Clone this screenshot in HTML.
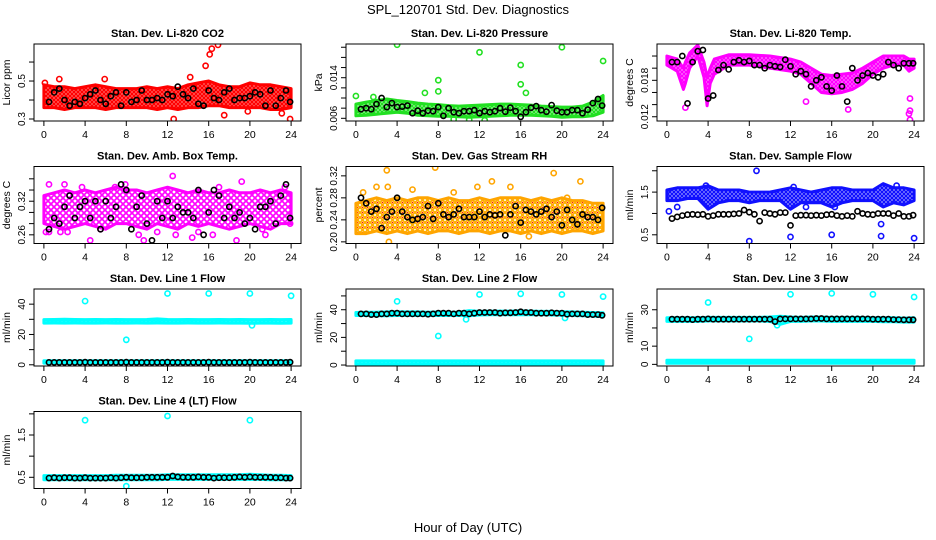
<!DOCTYPE html>
<html><head><meta charset="utf-8"><style>
html,body{margin:0;padding:0;background:#fff;}
svg{display:block;font-family:"Liberation Sans",Arial,sans-serif;}
</style></head><body>
<svg id="chart" width="936" height="540" viewBox="0 0 936 540" xmlns="http://www.w3.org/2000/svg">
<defs id="defs"></defs>
<text x="468" y="14" font-size="13" text-anchor="middle">SPL_120701  Std. Dev. Diagnostics</text>
<text x="468" y="532" font-size="13" text-anchor="middle">Hour of Day (UTC)</text>
</svg>
<script>
const hourX=[0,1,2,3,4,5,6,7,8,9,10,11,12,13,14,15,16,17,18,19,20,21,22,23,24];
const blackX=[0.5,1,1.5,2,2.5,3,3.5,4,4.5,5,5.5,6,6.5,7,7.5,8,8.5,9,9.5,10,10.5,11,11.5,12,12.5,13,13.5,14,14.5,15,15.5,16,16.5,17,17.5,18,18.5,19,19.5,20,20.5,21,21.5,22,22.5,23,23.5,23.9];
const xTicks=[0,4,8,12,16,20,24];

// Panel 1: CO2
const co2Lo=[0.36,0.36,0.35,0.36,0.36,0.36,0.35,0.36,0.36,0.36,0.36,0.35,0.36,0.35,0.36,0.36,0.37,0.37,0.36,0.36,0.36,0.36,0.35,0.35,0.36];
const co2Hi=[0.48,0.47,0.47,0.46,0.47,0.48,0.47,0.46,0.46,0.46,0.47,0.46,0.47,0.46,0.48,0.49,0.50,0.48,0.47,0.47,0.49,0.48,0.48,0.47,0.46];
const co2OutX=[0.1,1.5,5.9,12.6,15.7,16.1,16.3,16.9,14.2,17.5,23.9,19.8,23.1];
const co2OutY=[0.49,0.51,0.51,0.30,0.58,0.64,0.67,0.69,0.52,0.32,0.30,0.34,0.33];
const co2Black=[0.39,0.44,0.46,0.40,0.37,0.39,0.38,0.41,0.43,0.45,0.40,0.38,0.42,0.44,0.37,0.44,0.39,0.40,0.45,0.40,0.40,0.41,0.40,0.43,0.42,0.47,0.43,0.41,0.46,0.38,0.37,0.45,0.41,0.40,0.44,0.46,0.40,0.41,0.41,0.42,0.44,0.43,0.37,0.45,0.37,0.41,0.45,0.39];
const co2Ticks=[0.3,0.4,0.5,0.6];
const co2Labels=["0.3","","0.5",""];

// Panel 2: Pressure
const presLo=[0.0065,0.0066,0.0068,0.007,0.0072,0.007,0.0066,0.0065,0.0064,0.0064,0.0063,0.0062,0.0063,0.0064,0.0065,0.0066,0.0066,0.0066,0.0065,0.0064,0.0062,0.0063,0.0063,0.0065,0.0072];
const presHi=[0.0088,0.0092,0.0095,0.0098,0.0095,0.0093,0.009,0.0088,0.0087,0.0085,0.0084,0.0085,0.0086,0.0087,0.0088,0.0088,0.0087,0.0086,0.0084,0.0083,0.0082,0.0082,0.0084,0.0092,0.0105];
const presOutX=[0,4,8,8,12,16,16,20,24,1.7,6.7,9.5,12.5,11,16.5];
const presOutY=[0.0104,0.0205,0.0135,0.0113,0.0190,0.0165,0.0127,0.0200,0.0173,0.0102,0.0110,0.0058,0.0056,0.0057,0.0110];
const presBlack=[0.0078,0.0080,0.0078,0.0088,0.0100,0.0082,0.0090,0.0082,0.0083,0.0085,0.0070,0.0075,0.0070,0.0075,0.0074,0.0082,0.0065,0.0080,0.0072,0.0070,0.0074,0.0074,0.0076,0.0070,0.0074,0.0072,0.0074,0.0080,0.0073,0.0081,0.0074,0.0063,0.0072,0.0081,0.0084,0.0076,0.0073,0.0086,0.0075,0.0072,0.0072,0.0076,0.0076,0.0070,0.0077,0.0090,0.0098,0.0085];
const presTicks=[0.006,0.008,0.010,0.012,0.014,0.016,0.018,0.020];
const presLabels=["0.006","","","","0.014","","",""];

// Panel 3: Li-820 Temp
const tempX=[0,1,1.6,1.8,2.2,3,3.6,3.9,4.2,4.6,6,8,10,12,13,14,15,16,17,18,19,20,21,22,23,23.5,24];
const tempLo=[0.0205,0.0195,0.0165,0.0175,0.020,0.022,0.0185,0.0138,0.0175,0.019,0.0205,0.0205,0.020,0.0195,0.019,0.0175,0.016,0.0158,0.016,0.0165,0.0175,0.019,0.020,0.0205,0.0205,0.0195,0.020];
const tempHi=[0.022,0.0215,0.020,0.021,0.0225,0.0238,0.021,0.0185,0.020,0.0215,0.0222,0.0222,0.022,0.0215,0.021,0.020,0.019,0.0188,0.019,0.0192,0.020,0.021,0.022,0.022,0.022,0.0215,0.0215];
const tempOutX=[1.8,23.6,23.6,23.6,23.5,17.6,13.5];
const tempOutY=[0.0135,0.0150,0.0130,0.0115,0.0125,0.0132,0.0145];
const tempBlack=[0.0210,0.0210,0.0220,0.0142,0.0210,0.0228,0.0230,0.0150,0.0155,0.0197,0.0205,0.0198,0.0210,0.0213,0.0210,0.0212,0.0205,0.0205,0.0200,0.0205,0.0203,0.0202,0.0214,0.0203,0.0190,0.0195,0.0190,0.0170,0.0180,0.0185,0.0170,0.0163,0.0188,0.0170,0.0145,0.0200,0.0180,0.0188,0.0192,0.0188,0.0185,0.0190,0.0210,0.0205,0.0200,0.0208,0.0208,0.0208];
const tempTicks=[0.012,0.014,0.016,0.018,0.020,0.022];
const tempLabels=["0.012","","","0.018","",""];

// Panel 4: Amb box temp
const ambLo=[0.28,0.275,0.27,0.275,0.28,0.275,0.27,0.28,0.28,0.275,0.27,0.28,0.275,0.27,0.28,0.275,0.28,0.275,0.27,0.275,0.28,0.275,0.27,0.28,0.28];
const ambHi=[0.33,0.335,0.34,0.335,0.34,0.335,0.34,0.345,0.34,0.34,0.335,0.34,0.345,0.34,0.335,0.34,0.335,0.335,0.34,0.335,0.335,0.34,0.335,0.34,0.335];
const ambOutX=[0.5,0.2,2.0,3.7,4.5,6.9,7.9,9.7,12.5,14.4,16.4,18.7,19.2,21.5,23.4,23.9,0.5,1.6,2.3,9.2,12.8,15.0,21.2,5.5,11,17];
const ambOutY=[0.35,0.265,0.35,0.345,0.25,0.345,0.35,0.25,0.365,0.255,0.26,0.25,0.355,0.26,0.345,0.28,0.265,0.265,0.265,0.26,0.26,0.265,0.27,0.27,0.265,0.345];
const ambBlack=[0.27,0.29,0.28,0.31,0.33,0.29,0.31,0.32,0.29,0.32,0.27,0.32,0.29,0.31,0.35,0.34,0.27,0.31,0.33,0.28,0.25,0.32,0.29,0.32,0.29,0.31,0.30,0.30,0.29,0.34,0.26,0.30,0.34,0.33,0.29,0.31,0.29,0.30,0.28,0.29,0.27,0.31,0.31,0.32,0.28,0.33,0.35,0.29];
const ambTicks=[0.26,0.28,0.30,0.32,0.34,0.36];
const ambLabels=["0.26","","","0.32","",""];

// Panel 5: Gas stream RH
const rhLo=[0.215,0.215,0.22,0.215,0.22,0.215,0.22,0.215,0.22,0.22,0.215,0.22,0.22,0.215,0.22,0.22,0.215,0.22,0.215,0.22,0.215,0.22,0.22,0.215,0.22];
const rhHi=[0.27,0.275,0.28,0.275,0.28,0.275,0.28,0.28,0.275,0.28,0.275,0.275,0.28,0.275,0.28,0.28,0.28,0.275,0.28,0.275,0.28,0.275,0.275,0.27,0.27];
const rhOutX=[3.0,7.7,13.2,19.2,21.8,3.2,0.7,2.0,9.5,15.0,20.5,3.1,16.8,5.5,11.8];
const rhOutY=[0.33,0.335,0.31,0.325,0.31,0.20,0.29,0.30,0.29,0.30,0.28,0.30,0.21,0.295,0.30];
const rhBlack=[0.28,0.27,0.255,0.26,0.225,0.245,0.255,0.28,0.255,0.245,0.24,0.242,0.245,0.265,0.242,0.27,0.25,0.245,0.25,0.26,0.245,0.245,0.245,0.255,0.245,0.25,0.248,0.25,0.212,0.25,0.265,0.235,0.258,0.255,0.25,0.255,0.26,0.245,0.255,0.23,0.258,0.24,0.232,0.25,0.245,0.245,0.24,0.262];
const rhTicks=[0.20,0.24,0.28,0.32];
const rhLabels=["0.20","0.24","0.28","0.32"];

// Panel 6: Sample flow
const sfLo=[1.3,1.3,1.35,1.35,1.1,1.25,1.3,1.3,1.25,1.3,1.3,1.3,1.1,1.25,1.25,1.25,1.15,1.25,1.3,1.3,1.3,1.15,1.25,1.2,1.3];
const sfHi=[1.55,1.6,1.6,1.6,1.65,1.55,1.55,1.55,1.5,1.5,1.5,1.55,1.6,1.55,1.5,1.55,1.6,1.6,1.55,1.55,1.55,1.7,1.6,1.6,1.55];
const sfOutX=[8.7,8,12,16,20.8,20.8,24,0.2,1,13.5,16.3,22.3,12.3,3.8];
const sfOutY=[2.0,0.35,0.45,0.5,0.47,0.75,0.42,1.05,1.15,1.15,1.15,1.65,1.62,1.65];
const sfBlack=[0.88,0.92,0.95,0.97,0.98,0.97,0.98,0.93,0.95,0.98,0.98,0.98,0.99,1.0,1.08,1.03,0.98,0.82,1.02,1.0,0.98,1.02,1.02,0.72,0.95,0.96,0.96,0.95,0.96,0.95,0.97,0.98,0.95,0.93,0.95,0.93,1.05,1.0,0.98,0.97,1.0,1.0,1.0,0.95,1.0,0.93,0.93,0.96];
const sfTicks=[0.5,1.0,1.5,2.0];
const sfLabels=["0.5","","1.5",""];

// Panel 7: Line 1 flow
const l1Lo=[27.5,27.6,27.5,27.6,27.5,27.5,27.6,27.5,27.5,27.6,27.5,27.6,27.5,27.5,27.6,27.5,27.5,27.6,27.5,27.5,27.4,27.5,27.5,27.4,27.5];
const l1Hi=[29.8,29.9,30.0,29.9,29.8,29.9,29.8,29.9,29.8,29.8,29.9,30.3,29.9,29.8,29.9,29.8,29.8,29.9,29.8,29.9,29.8,29.8,29.9,29.8,29.9];
const l1LowLo=[1.1,1.1,1.1,1.1,1.1,1.1,1.1,1.1,1.1,1.1,1.1,1.1,1.1,1.1,1.1,1.1,1.1,1.1,1.1,1.1,1.1,1.1,1.1,1.1,1.1];
const l1LowHi=[2.6,2.6,2.6,2.6,2.6,2.6,2.6,2.6,2.6,2.6,2.6,2.6,2.6,2.6,2.6,2.6,2.6,2.6,2.6,2.6,2.6,2.6,2.6,2.6,2.6];
const l1OutX=[4,8,12,16,20,24,20.2];
const l1OutY=[42,16.5,47,47,47,45.5,26];
const l1Black=[1.6,1.6,1.6,1.6,1.6,1.6,1.6,1.7,1.6,1.6,1.6,1.6,1.6,1.6,1.6,1.7,1.6,1.6,1.6,1.6,1.6,1.6,1.6,1.7,1.6,1.6,1.6,1.6,1.6,1.6,1.6,1.7,1.6,1.6,1.6,1.6,1.6,1.6,1.6,1.7,1.6,1.6,1.6,1.6,1.6,1.6,1.6,1.7];
const l1Ticks=[0,10,20,30,40];
const l1Labels=["0","","20","","40"];

// Panel 8: Line 2 flow
const l2Lo=[35.8,35.8,35.6,35.6,35.8,35.8,35.8,35.8,35.8,35.8,35.8,35.6,36.2,36.4,36.4,36.4,36.4,36.4,36.4,36.2,36.0,35.8,35.6,35.4,35.0];
const l2Hi=[38.0,38.2,38.2,38.4,38.6,38.4,38.4,38.2,38.4,38.2,38.2,39.4,38.8,39.0,39.0,39.0,39.2,39.0,38.8,38.8,38.6,38.4,38.2,38.0,37.8];
const l2LowLo=[0.6,0.6,0.6,0.6,0.6,0.6,0.6,0.6,0.6,0.6,0.6,0.6,0.6,0.6,0.6,0.6,0.6,0.6,0.6,0.6,0.6,0.6,0.6,0.6,0.6];
const l2LowHi=[3.0,3.0,3.0,3.0,3.0,3.0,3.0,3.0,3.0,3.0,3.0,3.0,3.0,3.0,3.0,3.0,3.0,3.0,3.0,3.0,3.0,3.0,3.0,3.0,3.0];
const l2OutX=[4,8,12,16,20,24,10.7,20.3];
const l2OutY=[46,21,51,51.5,51,49.5,33,34];
const l2Black=[37,37,36.5,36.5,37,37,37.5,37.5,37,37,37,37,37,36.8,37,37.5,37.5,37.5,37,37.5,37.5,37,37.5,38,38,38,38,37.5,37.8,37.8,38,38.5,38,38,37.5,37.5,37.5,37.8,37.5,37.5,36.8,37,37,37,36.5,36.5,36.5,36];
const l2Ticks=[0,10,20,30,40,50];
const l2Labels=["0","","20","","40",""];

// Panel 9: Line 3 flow
const l3Lo=[23.6,23.6,23.6,23.6,23.8,23.8,23.8,23.8,23.8,23.8,23.6,22.0,23.6,23.6,23.8,23.8,23.6,23.6,23.6,23.6,23.6,23.4,23.4,23.2,23.2];
const l3Hi=[25.6,25.6,25.6,25.6,25.8,25.8,25.8,25.8,25.8,25.8,26.0,26.4,26.0,25.8,26.0,26.0,25.8,25.8,25.8,25.8,25.6,25.6,25.6,25.4,25.6];
const l3LowLo=[0.6,0.6,0.6,0.6,0.6,0.6,0.6,0.6,0.6,0.6,0.6,0.6,0.6,0.6,0.6,0.6,0.6,0.6,0.6,0.6,0.6,0.6,0.6,0.6,0.6];
const l3LowHi=[2.3,2.3,2.3,2.3,2.3,2.3,2.3,2.3,2.3,2.3,2.3,2.3,2.3,2.3,2.3,2.3,2.3,2.3,2.3,2.3,2.3,2.3,2.3,2.3,2.3];
const l3OutX=[4,8,12,16,20,24,10.7];
const l3OutY=[34,14,38.5,39,38.5,37,21.5];
const l3Black=[24.8,24.8,24.8,24.8,24.6,24.8,24.8,25,24.8,24.8,24.8,24.8,24.8,24.8,24.8,24.8,24.8,24.8,24.8,24.8,23.5,25,25,25,25,25,25,25,25.2,25.2,25,25,25,25,25,25,25,25,25,24.8,24.8,24.8,24.8,24.6,24.6,24.5,24.5,24.5];
const l3Ticks=[0,10,20,30];
const l3Labels=["0","10","","30"];

// Panel 10: Line 4 (LT) flow
const l4Lo=[0.44,0.44,0.44,0.44,0.44,0.44,0.44,0.44,0.44,0.44,0.44,0.44,0.45,0.45,0.45,0.45,0.45,0.45,0.45,0.45,0.45,0.45,0.44,0.44,0.44];
const l4Hi=[0.54,0.54,0.54,0.54,0.54,0.54,0.54,0.55,0.55,0.55,0.55,0.55,0.56,0.56,0.56,0.56,0.56,0.56,0.56,0.56,0.57,0.56,0.55,0.55,0.54];
const l4OutX=[4,12,20,8];
const l4OutY=[1.85,1.95,1.85,0.29];
const l4Black=[0.48,0.49,0.48,0.49,0.49,0.48,0.48,0.49,0.48,0.48,0.48,0.48,0.49,0.48,0.49,0.5,0.49,0.49,0.49,0.5,0.5,0.5,0.5,0.5,0.53,0.51,0.5,0.5,0.5,0.51,0.5,0.5,0.48,0.49,0.49,0.49,0.5,0.51,0.5,0.51,0.5,0.5,0.5,0.5,0.49,0.49,0.48,0.48];
const l4Ticks=[0.5,1.0,1.5,2.0];
const l4Labels=["0.5","","1.5",""];

const SVGNS="http://www.w3.org/2000/svg";
const svg=document.getElementById('chart');
const defs=document.getElementById('defs');
function mk(tag,attrs,parent){const e=document.createElementNS(SVGNS,tag);for(const k in attrs)e.setAttribute(k,attrs[k]);(parent||svg).appendChild(e);return e;}

function makePattern(id,color,size,r,sw,center){
  const p=mk('pattern',{id:id,width:size,height:size,patternUnits:'userSpaceOnUse'},defs);
  mk('rect',{x:0,y:0,width:size,height:size,fill:'#fff'},p);
  mk('circle',{cx:size/2,cy:size/2,r:r,fill:'none',stroke:color,'stroke-width':sw},p);
  mk('circle',{cx:0,cy:0,r:r,fill:'none',stroke:color,'stroke-width':sw},p);
  mk('circle',{cx:size,cy:0,r:r,fill:'none',stroke:color,'stroke-width':sw},p);
  mk('circle',{cx:0,cy:size,r:r,fill:'none',stroke:color,'stroke-width':sw},p);
  mk('circle',{cx:size,cy:size,r:r,fill:'none',stroke:color,'stroke-width':sw},p);
  if(center)mk('circle',{cx:size/2,cy:size/2,r:0.8,fill:center},p);
}
makePattern('pRed','#ff0000',4,1.6,1.5);
makePattern('pGreen','#22e022',4,1.5,1.4);
makePattern('pMag','#ff00ff',4,1.6,1.4);
makePattern('pMagSparse','#ff00ff',6,2.2,1.4);
makePattern('pOrange','#ffb000',5,1.9,1.4,'#ff2000');
makePattern('pBlue','#1010ff',4,1.5,1.4);
makePattern('pCyan','#00ffff',4,1.5,1.5);

const colL=[34,346,657], rowT=[44,166.5,289,411.5], W=267, H=77;

const panels=[
 {name:'co2',title:'Stan. Dev. Li-820 CO2',ylab:'Licor ppm',c:0,r:0,dom:[0.2895,0.695],ticks:co2Ticks,labels:co2Labels,color:'#ff0000',pat:'pRed',bands:[[hourX,co2Lo,co2Hi]],outX:co2OutX,outY:co2OutY,black:co2Black},
 {name:'pressure',title:'Stan. Dev. Li-820 Pressure',ylab:'kPa',c:1,r:0,dom:[0.00547,0.02064],ticks:presTicks,labels:presLabels,color:'#22e022',pat:'pGreen',bands:[[hourX,presLo,presHi]],outX:presOutX,outY:presOutY,black:presBlack},
 {name:'li820-temp',title:'Stan. Dev. Li-820 Temp.',ylab:'degrees C',c:2,r:0,dom:[0.0113,0.02398],ticks:tempTicks,labels:tempLabels,color:'#ff00ff',pat:'pMag',bands:[[tempX,tempLo,tempHi]],outX:tempOutX,outY:tempOutY,black:tempBlack},
 {name:'amb-box-temp',title:'Stan. Dev. Amb. Box Temp.',ylab:'degrees C',c:0,r:1,dom:[0.2445,0.382],ticks:ambTicks,labels:ambLabels,color:'#ff00ff',pat:'pMagSparse',bands:[[hourX,ambLo,ambHi]],outX:ambOutX,outY:ambOutY,black:ambBlack},
 {name:'gas-stream-rh',title:'Stan. Dev. Gas Stream RH',ylab:'percent',c:1,r:1,dom:[0.197,0.337],ticks:rhTicks,labels:rhLabels,color:'#ffa500',pat:'pOrange',bands:[[hourX,rhLo,rhHi]],outX:rhOutX,outY:rhOutY,black:rhBlack},
 {name:'sample-flow',title:'Stan. Dev. Sample Flow',ylab:'ml/min',c:2,r:1,dom:[0.296,2.10],ticks:sfTicks,labels:sfLabels,color:'#1010ff',pat:'pBlue',bands:[[hourX,sfLo,sfHi]],outX:sfOutX,outY:sfOutY,black:sfBlack},
 {name:'line1-flow',title:'Stan. Dev. Line 1 Flow',ylab:'ml/min',c:0,r:2,dom:[-0.8,50],ticks:l1Ticks,labels:l1Labels,color:'#00ffff',pat:'pCyan',bands:[[hourX,l1Lo,l1Hi],[hourX,l1LowLo,l1LowHi]],outX:l1OutX,outY:l1OutY,black:l1Black},
 {name:'line2-flow',title:'Stan. Dev. Line 2 Flow',ylab:'ml/min',c:1,r:2,dom:[-0.7,55],ticks:l2Ticks,labels:l2Labels,color:'#00ffff',pat:'pCyan',bands:[[hourX,l2Lo,l2Hi],[hourX,l2LowLo,l2LowHi]],outX:l2OutX,outY:l2OutY,black:l2Black},
 {name:'line3-flow',title:'Stan. Dev. Line 3 Flow',ylab:'ml/min',c:2,r:2,dom:[-0.9,41.4],ticks:l3Ticks,labels:l3Labels,color:'#00ffff',pat:'pCyan',bands:[[hourX,l3Lo,l3Hi],[hourX,l3LowLo,l3LowHi]],outX:l3OutX,outY:l3OutY,black:l3Black},
 {name:'line4-flow',title:'Stan. Dev. Line 4 (LT) Flow',ylab:'ml/min',c:0,r:3,dom:[0.235,2.056],ticks:l4Ticks,labels:l4Labels,color:'#00ffff',pat:'pCyan',bands:[[hourX,l4Lo,l4Hi]],outX:l4OutX,outY:l4OutY,black:l4Black}
];

panels.forEach(p=>{
  const L=colL[p.c], T=rowT[p.r];
  const xs=v=>L+W*(v+0.96)/25.92;
  const ys=v=>T+H*(p.dom[1]-v)/(p.dom[1]-p.dom[0]);
  const g=mk('g',{});
  
  
  const clipId='clip-'+p.name;
  const cp=mk('clipPath',{id:clipId},defs);
  mk('rect',{x:L,y:T,width:W,height:H},cp);
  const plot=mk('g',{'clip-path':'url(#'+clipId+')'},g);
  p.bands.forEach((b,bi)=>{
    const [bx,lo,hi]=b;
    let pts=[];
    for(let i=0;i<bx.length;i++)pts.push(xs(bx[i]).toFixed(1)+','+ys(hi[i]).toFixed(1));
    for(let i=bx.length-1;i>=0;i--)pts.push(xs(bx[i]).toFixed(1)+','+ys(lo[i]).toFixed(1));
    const poly=mk('polygon',{points:pts.join(' '),fill:'url(#'+p.pat+')',stroke:p.color,'stroke-width':'3','stroke-linejoin':'round'},plot);
    
    
  });
  for(let i=0;i<p.outX.length;i++){
    const c=mk('circle',{cx:xs(p.outX[i]).toFixed(1),cy:ys(p.outY[i]).toFixed(1),r:'2.6',fill:'none',stroke:p.color,'stroke-width':'1.6'},plot);
    
    
  }
  for(let i=0;i<p.black.length;i++){
    const c=mk('circle',{cx:xs(blackX[i]).toFixed(1),cy:ys(p.black[i]).toFixed(1),r:'2.6',fill:'none',stroke:'#000','stroke-width':'1.6'},plot);
    
    
  }
  const box=mk('rect',{x:L,y:T,width:W,height:H,fill:'none',stroke:'#000','stroke-width':'1'},g);
  
  
  const t=mk('text',{x:L+W/2,y:T-7,'font-size':'11','font-weight':'bold','text-anchor':'middle'},g);
  t.textContent=p.title;
  
  
  const xa=mk('g',{},g);
  
  
  xTicks.forEach(v=>{
    const x=xs(v);
    mk('line',{x1:x,x2:x,y1:T+H,y2:T+H+5,stroke:'#000'},xa);
    const tl=mk('text',{x:x,y:T+H+17,'font-size':'10.5','text-anchor':'middle'},xa);
    tl.textContent=String(v);
  });
  const ya=mk('g',{},g);
  
  
  const y0=ys(p.ticks[0]), y1=ys(p.ticks[p.ticks.length-1]);
  mk('line',{x1:L,x2:L,y1:y0,y2:y1,stroke:'#000'},ya);
  p.ticks.forEach((v,i)=>{
    const y=ys(v);
    mk('line',{x1:L-5,x2:L,y1:y,y2:y,stroke:'#000'},ya);
    if(p.labels[i]){
      const tl=mk('text',{x:L-9,y:y,'font-size':'10','text-anchor':'middle',transform:'rotate(-90 '+(L-9)+' '+y+')'},ya);
      tl.textContent=p.labels[i];
    }
  });
  const yt=mk('text',{x:L-24,y:T+H/2,'font-size':'10.5','text-anchor':'middle',transform:'rotate(-90 '+(L-24)+' '+(T+H/2)+')'},g);
  yt.textContent=p.ylab;
  
  
});
</script>
</body></html>
